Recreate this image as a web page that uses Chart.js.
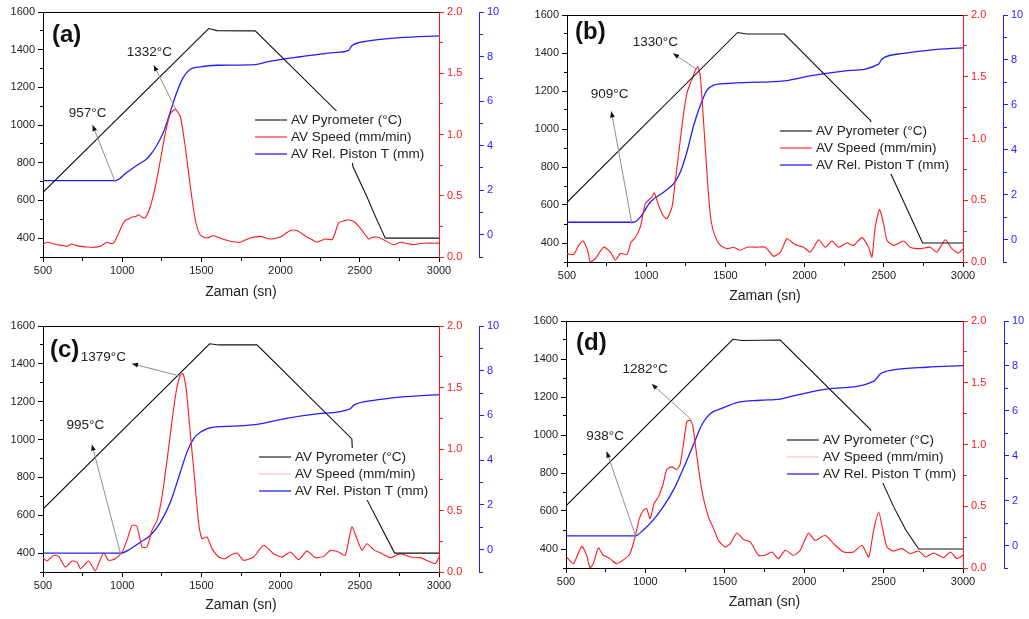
<!DOCTYPE html>
<html>
<head>
<meta charset="utf-8">
<script src="https://cdn.jsdelivr.net/npm/chart.js@4.4.1/dist/chart.umd.min.js"></script>
<style>
  html, body { margin: 0; padding: 0; background: #fff; }
  body { width: 1029px; height: 619px; position: relative; overflow: hidden; }
  canvas { position: absolute; }
</style>
</head>
<body>
<canvas id="pa" width="514" height="305" style="left:0;top:0"></canvas>
<canvas id="pb" width="515" height="310" style="left:514px;top:0"></canvas>
<canvas id="pc" width="514" height="309" style="left:0;top:310px"></canvas>
<canvas id="pd" width="515" height="309" style="left:514px;top:310px"></canvas>
<script>
// tick labels
const xTicks = [500, 1000, 1500, 2000, 2500, 3000];
const tempTicks = [400, 600, 800, 1000, 1200, 1400, 1600];
const speedTicks = [0, 0.5, 1, 1.5, 2];
const pistonTicks = [0, 2, 4, 6, 8, 10];
const seriesNames = ['AV Pyrometer (°C)', 'AV Speed (mm/min)', 'AV Rel. Piston T (mm)'];

// (a) [time s, value]
const pyroA = [[500,643],[1546,1512],[1598,1501],[1840,1500],[2400,1035],[2430,930],[2457,779],[2545,620],[2608,497],[2661,400],[3000,400]];
const speedA = [[500,0.10],[525,0.12],[560,0.11],[588,0.10],[620,0.095],[651,0.087],[683,0.106],[710,0.095],[736,0.087],[780,0.082],[820,0.079],[862,0.087],[904,0.12],[930,0.11],[946,0.114],[978,0.195],[1000,0.26],[1020,0.30],[1040,0.31],[1062,0.326],[1085,0.33],[1104,0.345],[1125,0.325],[1146,0.32],[1177,0.41],[1209,0.575],[1241,0.79],[1272,1.01],[1304,1.17],[1335,1.205],[1367,1.145],[1398,0.90],[1430,0.575],[1462,0.30],[1493,0.18],[1535,0.155],[1577,0.174],[1619,0.155],[1650,0.14],[1682,0.128],[1745,0.12],[1780,0.14],[1809,0.155],[1872,0.168],[1935,0.147],[1998,0.163],[2030,0.19],[2061,0.217],[2103,0.217],[2135,0.19],[2166,0.163],[2200,0.14],[2229,0.12],[2282,0.147],[2324,0.141],[2345,0.2],[2366,0.277],[2400,0.295],[2429,0.304],[2471,0.282],[2514,0.217],[2556,0.147],[2580,0.16],[2608,0.163],[2650,0.141],[2713,0.10],[2756,0.12],[2800,0.11],[2840,0.10],[2880,0.11],[2924,0.114],[2960,0.112],[3000,0.114]];
const pistonA = [[500,2.43],[957,2.43],[988,2.54],[1020,2.75],[1051,2.91],[1080,3.05],[1114,3.21],[1150,3.38],[1177,3.58],[1220,4.03],[1262,4.63],[1304,5.52],[1346,6.42],[1388,7.09],[1430,7.43],[1493,7.54],[1598,7.61],[1840,7.64],[1914,7.76],[2124,7.99],[2335,8.18],[2429,8.28],[2450,8.48],[2545,8.69],[2756,8.85],[3000,8.93]];
const notesA = [
  { text: '957°C', at: [782, 1065], from: [957, 696], to: [813, 1000] },
  { text: '1332°C', at: [1171, 1385], from: [1342, 1079], to: [1199, 1318] }
];

// (b)
const pyroB = [[500,614],[1577,1508],[1636,1500],[1872,1500],[2415,1046],[2460,960],[2530,791],[2745,400],[3000,400]];
const speedB = [[500,0.068],[542,0.062],[574,0.135],[601,0.17],[630,0.095],[647,0.0],[679,0.027],[731,0.12],[774,0.08],[805,0.014],[837,0.068],[879,0.062],[904,0.16],[931,0.197],[963,0.284],[994,0.473],[1015,0.5],[1036,0.527],[1051,0.56],[1078,0.46],[1110,0.37],[1131,0.35],[1163,0.446],[1184,0.66],[1215,0.986],[1236,1.20],[1257,1.365],[1278,1.446],[1295,1.5],[1310,1.554],[1327,1.58],[1342,1.5],[1363,1.12],[1388,0.635],[1409,0.338],[1436,0.203],[1468,0.135],[1510,0.108],[1552,0.12],[1594,0.095],[1636,0.12],[1699,0.12],[1752,0.12],[1805,0.046],[1847,0.08],[1889,0.19],[1920,0.16],[1952,0.135],[1994,0.12],[2036,0.08],[2089,0.18],[2131,0.12],[2173,0.17],[2215,0.12],[2267,0.154],[2309,0.135],[2362,0.197],[2404,0.12],[2425,0.04],[2446,0.284],[2473,0.424],[2499,0.31],[2520,0.176],[2562,0.135],[2625,0.17],[2667,0.12],[2730,0.108],[2793,0.12],[2835,0.08],[2888,0.18],[2930,0.108],[2972,0.073],[3000,0.108]];
const pistonB = [[500,0.77],[921,0.77],[963,1.0],[1026,1.67],[1110,2.11],[1173,2.49],[1215,3.0],[1257,3.9],[1300,5.09],[1342,5.98],[1384,6.65],[1426,6.88],[1510,6.95],[1615,6.99],[1872,7.07],[2036,7.29],[2246,7.5],[2467,7.81],[2488,8.04],[2625,8.29],[2793,8.44],[3000,8.54]];
const notesB = [
  { text: '909°C', at: [769, 1183], from: [910, 500], to: [780, 1093] },
  { text: '1330°C', at: [1058, 1454], from: [1321, 1313], to: [1170, 1398] }
];

// (c)
const pyroC = [[500,633],[1552,1506],[1609,1500],[1851,1500],[2450,1003],[2452,959],[2500,840],[2541,689],[2720,400],[3000,400]];
const speedC = [[500,0.117],[525,0.089],[567,0.135],[599,0.127],[641,0.04],[683,0.089],[715,0.081],[736,0.027],[788,0.089],[830,0.008],[851,0.068],[883,0.154],[915,0.095],[957,0.108],[999,0.163],[1030,0.257],[1062,0.38],[1093,0.371],[1125,0.203],[1156,0.203],[1188,0.339],[1220,0.42],[1251,0.61],[1283,0.908],[1315,1.233],[1342,1.477],[1367,1.599],[1384,1.612],[1405,1.477],[1430,1.125],[1456,0.772],[1483,0.393],[1504,0.271],[1535,0.285],[1567,0.19],[1609,0.122],[1651,0.108],[1682,0.135],[1725,0.154],[1767,0.095],[1830,0.122],[1893,0.217],[1956,0.149],[2009,0.122],[2061,0.163],[2114,0.1],[2166,0.17],[2219,0.117],[2272,0.127],[2314,0.176],[2366,0.163],[2408,0.135],[2450,0.366],[2482,0.271],[2514,0.176],[2545,0.23],[2587,0.182],[2640,0.149],[2693,0.117],[2756,0.149],[2819,0.122],[2882,0.117],[2945,0.081],[2977,0.068],[3000,0.122]];
const pistonC = [[500,-0.16],[988,-0.16],[1051,0.03],[1114,0.33],[1177,0.63],[1241,1.22],[1304,2.12],[1367,3.46],[1409,4.36],[1451,4.96],[1493,5.25],[1577,5.48],[1703,5.52],[1851,5.6],[2019,5.85],[2229,6.07],[2440,6.3],[2461,6.45],[2587,6.67],[2756,6.82],[3000,6.93]];
const notesC = [
  { text: '995°C', at: [767, 1074], from: [992, 389], to: [809, 973] },
  { text: '1379°C', at: [881, 1436], from: [1367, 1335], to: [1062, 1401] }
];

// (d)
const pyroD = [[500,627],[1551,1504],[1607,1497],[1849,1500],[2416,1030],[2450,930],[2479,777],[2563,623],[2640,500],[2721,400],[3000,400]];
const speedD = [[500,0.095],[546,0.035],[599,0.176],[630,0.103],[651,0.003],[672,0.035],[704,0.162],[735,0.103],[777,0.076],[819,0.035],[872,0.076],[903,0.116],[935,0.251],[962,0.4],[987,0.468],[1008,0.481],[1029,0.4],[1055,0.522],[1082,0.576],[1109,0.67],[1135,0.797],[1166,0.819],[1198,0.797],[1219,0.84],[1240,1.008],[1261,1.184],[1282,1.197],[1298,1.157],[1319,0.954],[1345,0.711],[1366,0.562],[1397,0.414],[1429,0.319],[1460,0.224],[1502,0.17],[1534,0.197],[1576,0.284],[1618,0.23],[1660,0.211],[1712,0.103],[1754,0.103],[1796,0.13],[1838,0.076],[1880,0.143],[1933,0.103],[1975,0.143],[2027,0.284],[2069,0.224],[2132,0.265],[2185,0.197],[2248,0.13],[2311,0.13],[2364,0.184],[2406,0.089],[2437,0.305],[2469,0.454],[2496,0.305],[2521,0.17],[2563,0.138],[2616,0.157],[2668,0.116],[2721,0.138],[2763,0.089],[2815,0.122],[2878,0.084],[2920,0.13],[2962,0.076],[3000,0.103]];
const pistonD = [[500,0.43],[935,0.43],[987,0.69],[1050,1.14],[1113,1.73],[1177,2.48],[1240,3.45],[1303,4.5],[1357,5.4],[1408,5.87],[1492,6.14],[1576,6.37],[1723,6.47],[1849,6.52],[1933,6.67],[2143,6.97],[2437,7.31],[2479,7.64],[2563,7.82],[2773,7.94],[3000,8.01]];
const notesD = [
  { text: '938°C', at: [746, 991], from: [941, 462], to: [756, 913] },
  { text: '1282°C', at: [998, 1346], from: [1292, 1079], to: [1040, 1269] }
];

const FONT = '"Liberation Sans", Arial, sans-serif';
const BLACK = '#111', RED = '#ff1a1a', BLUE = '#1f1fff';
Chart.defaults.font.family = FONT;

const panels = [
  { id: 'pa', tag: '(a)', pyro: pyroA, speed: speedA, piston: pistonA, notes: notesA,
    w: 514, h: 305, area: { l: 43, r: 439, t: 12, b: 257 }, blueX: 479, titlePad: 4,
    legend: { dx: 212, dy: 108 }, label: { dx: 9, dy: 23 }, speedKey: RED },
  { id: 'pb', tag: '(b)', pyro: pyroB, speed: speedB, piston: pistonB, notes: notesB,
    w: 515, h: 310, area: { l: 53, r: 449, t: 15, b: 262 }, blueX: 489, titlePad: 5,
    legend: { dx: 213, dy: 116 }, label: { dx: 8, dy: 17 }, speedKey: RED },
  { id: 'pc', tag: '(c)', pyro: pyroC, speed: speedC, piston: pistonC, notes: notesC,
    w: 514, h: 309, area: { l: 43, r: 439, t: 16, b: 262 }, blueX: 479, titlePad: 5,
    legend: { dx: 216, dy: 131 }, label: { dx: 7, dy: 24 }, speedKey: 'rgba(255,60,60,0.35)' },
  { id: 'pd', tag: '(d)', pyro: pyroD, speed: speedD, piston: pistonD, notes: notesD,
    w: 515, h: 309, area: { l: 52, r: 449, t: 11, b: 258 }, blueX: 490, titlePad: 8,
    legend: { dx: 221, dy: 119 }, label: { dx: 10, dy: 22 }, speedKey: 'rgba(255,60,60,0.35)' }
];

const toXY = arr => arr.map(([x, y]) => ({ x, y }));

function makeDecor(p) {
  return {
    id: 'decor',
    afterDatasetsDraw(chart) {
      const { ctx, chartArea: a, scales } = chart;
      const X = v => scales.x.getPixelForValue(v);
      const Y = v => scales.y.getPixelForValue(v);
      ctx.save();
      // top frame line
      ctx.strokeStyle = '#000';
      ctx.lineWidth = 1;
      ctx.beginPath();
      ctx.moveTo(a.left, Math.round(a.top) + 0.5);
      ctx.lineTo(a.right, Math.round(a.top) + 0.5);
      ctx.stroke();

      // annotation arrows
      p.notes.forEach(n => {
        const x1 = X(n.from[0]), y1 = Y(n.from[1]);
        const x2 = X(n.to[0]), y2 = Y(n.to[1]);
        ctx.strokeStyle = '#8f8f8f';
        ctx.lineWidth = 1;
        ctx.beginPath();
        ctx.moveTo(x1, y1);
        ctx.lineTo(x2, y2);
        ctx.stroke();
        const ang = Math.atan2(y2 - y1, x2 - x1);
        const c = Math.cos(ang), s = Math.sin(ang);
        ctx.fillStyle = '#111';
        ctx.beginPath();
        ctx.moveTo(x2, y2);
        ctx.lineTo(x2 - 6 * c + 2.4 * s, y2 - 6 * s - 2.4 * c);
        ctx.lineTo(x2 - 6 * c - 2.4 * s, y2 - 6 * s + 2.4 * c);
        ctx.closePath();
        ctx.fill();
        ctx.font = '13.5px ' + FONT;
        ctx.fillStyle = '#222';
        ctx.textAlign = 'center';
        ctx.textBaseline = 'middle';
        ctx.fillText(n.text, X(n.at[0]), Y(n.at[1]));
      });

      // panel tag
      ctx.font = 'bold 24px ' + FONT;
      ctx.fillStyle = '#111';
      ctx.textAlign = 'left';
      ctx.textBaseline = 'middle';
      ctx.fillText(p.tag, a.left + p.label.dx, a.top + p.label.dy);

      // legend inside plot
      const lx = a.left + p.legend.dx, ly = a.top + p.legend.dy;
      ctx.font = '13.5px ' + FONT;
      const tw = Math.max(...seriesNames.map(t => ctx.measureText(t).width));
      ctx.fillStyle = '#fff';
      ctx.fillRect(lx - 2, ly - 9, 36 + tw + 4, 17 * 2 + 18);
      const cols = [BLACK, p.speedKey, BLUE];
      seriesNames.forEach((t, i) => {
        const y = ly + 17 * i;
        ctx.strokeStyle = cols[i];
        ctx.lineWidth = i === 2 ? 1.3 : 1.1;
        ctx.beginPath();
        ctx.moveTo(lx, y);
        ctx.lineTo(lx + 32, y);
        ctx.stroke();
        ctx.fillStyle = '#222';
        ctx.fillText(t, lx + 36, y + 0.5);
      });
      ctx.restore();
    }
  };
}

// major ticks 5px, minor ticks drawn as 3px via a dash on the tick mark
function axisBase(color, majors, fromOuter) {
  const isMinor = c => c.tick && !majors.includes(c.tick.value);
  return {
    grid: {
      drawOnChartArea: false, color: color, tickLength: 5, lineWidth: 1,
      tickBorderDash: c => isMinor(c) ? (fromOuter ? [0, 2, 3, 30] : [3, 30]) : [],
    },
    border: { color: color, width: 1 },
    ticks: { autoSkip: false, maxRotation: 0, padding: 3, color: color === '#000' ? '#222' : color, font: { size: 11 } }
  };
}

panels.forEach(p => {
  const xAxis = axisBase('#000', xTicks, false);
  const yAxis = axisBase('#000', tempTicks, true);
  const rAxis = axisBase(RED, speedTicks, false);
  const bAxis = axisBase(BLUE, pistonTicks, false);

  new Chart(document.getElementById(p.id), {
    type: 'line',
    data: {
      datasets: [
        { label: seriesNames[0], data: toXY(p.pyro), yAxisID: 'y', borderColor: BLACK, borderWidth: 1.1, pointRadius: 0, tension: 0 },
        { label: seriesNames[1], data: toXY(p.speed), yAxisID: 'yR', borderColor: RED, borderWidth: 1.1, pointRadius: 0, tension: 0.2 },
        { label: seriesNames[2], data: toXY(p.piston), yAxisID: 'yB', borderColor: BLUE, borderWidth: 1.3, pointRadius: 0, cubicInterpolationMode: 'monotone' }
      ]
    },
    options: {
      responsive: false,
      animation: false,
      devicePixelRatio: 1,
      layout: { padding: { top: p.area.t, left: 0, right: 0, bottom: 0 } },
      plugins: { legend: { display: false }, tooltip: { enabled: false } },
      scales: {
        x: Object.assign(xAxis, {
          type: 'linear', min: 500, max: 3000,
          afterFit: s => { s.height = p.h - p.area.b; },
          ticks: Object.assign(xAxis.ticks, { stepSize: 250, padding: 2, callback: v => xTicks.includes(v) ? String(v) : '' }),
          title: { display: true, text: 'Zaman (sn)', color: '#222', font: { size: 14 }, padding: { top: 0, bottom: p.titlePad } }
        }),
        y: Object.assign(yAxis, {
          position: 'left', min: 300, max: 1600,
          afterFit: s => { s.width = p.area.l; },
          ticks: Object.assign(yAxis.ticks, { stepSize: 100, callback: v => tempTicks.includes(v) ? String(v) : '' })
        }),
        yR: Object.assign(rAxis, {
          position: 'right', weight: 0, min: 0, max: 2,
          afterFit: s => { s.width = p.blueX - p.area.r; },
          ticks: Object.assign(rAxis.ticks, { stepSize: 0.25, callback: v => speedTicks.includes(v) ? v.toFixed(1) : '' })
        }),
        yB: Object.assign(bAxis, {
          position: 'right', weight: 1, min: -1, max: 10,
          afterFit: s => { s.width = p.w - p.blueX; },
          ticks: Object.assign(bAxis.ticks, { stepSize: 1, callback: v => pistonTicks.includes(v) ? String(v) : '' })
        })
      }
    },
    plugins: [makeDecor(p)]
  });
});
</script>
</body>
</html>
